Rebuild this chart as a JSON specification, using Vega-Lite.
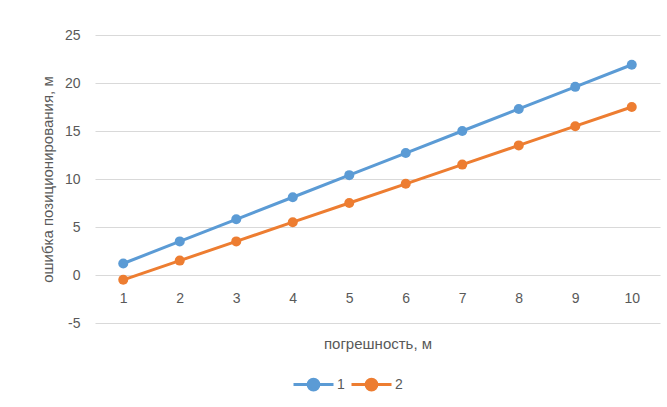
{
  "$schema": "https://vega.github.io/schema/vega-lite/v6.json",
  "width": 565,
  "height": 288,
  "autosize": {"type": "none"},
  "padding": {"left": 95, "top": 35, "right": 7, "bottom": 84},
  "background": "white",
  "data": {
    "values": [
      {"x": 1, "series": "1", "value": 1.2},
      {"x": 2, "series": "1", "value": 3.5},
      {"x": 3, "series": "1", "value": 5.8},
      {"x": 4, "series": "1", "value": 8.1},
      {"x": 5, "series": "1", "value": 10.4},
      {"x": 6, "series": "1", "value": 12.7},
      {"x": 7, "series": "1", "value": 15.0},
      {"x": 8, "series": "1", "value": 17.3},
      {"x": 9, "series": "1", "value": 19.6},
      {"x": 10, "series": "1", "value": 21.9},
      {"x": 1, "series": "2", "value": -0.5},
      {"x": 2, "series": "2", "value": 1.5},
      {"x": 3, "series": "2", "value": 3.5},
      {"x": 4, "series": "2", "value": 5.5},
      {"x": 5, "series": "2", "value": 7.5},
      {"x": 6, "series": "2", "value": 9.5},
      {"x": 7, "series": "2", "value": 11.5},
      {"x": 8, "series": "2", "value": 13.5},
      {"x": 9, "series": "2", "value": 15.5},
      {"x": 10, "series": "2", "value": 17.5}
    ]
  },
  "mark": {
    "type": "line",
    "strokeWidth": 3,
    "point": {"filled": true, "size": 100}
  },
  "encoding": {
    "x": {
      "field": "x",
      "type": "ordinal",
      "scale": {"type": "point", "padding": 0.5},
      "axis": {
        "title": "погрешность, м",
        "labelAngle": 0,
        "offset": -47,
        "domain": false,
        "ticks": false,
        "grid": false,
        "labelPadding": 15,
        "titleBaseline": "middle",
        "titleY": 67
      }
    },
    "y": {
      "field": "value",
      "type": "quantitative",
      "scale": {"domain": [-5, 25], "nice": false, "zero": false},
      "axis": {
        "title": "ошибка позиционирования, м",
        "values": [-5, 0, 5, 10, 15, 20, 25],
        "labelExpr": "replace(datum.label, '−', '-')",
        "domain": false,
        "ticks": false,
        "grid": true,
        "labelPadding": 15,
        "titlePadding": 9
      }
    },
    "color": {
      "field": "series",
      "type": "nominal",
      "scale": {"domain": ["1", "2"], "range": ["#5B9BD5", "#ED7D31"]},
      "legend": {
        "title": null,
        "orient": "none",
        "direction": "horizontal",
        "legendX": 197,
        "legendY": 328,
        "symbolType": "M-1,0H1M0.27,0A0.27,0.27 0 1 1 -0.27,0A0.27,0.27 0 1 1 0.27,0Z",
        "symbolSize": 1600,
        "symbolStrokeWidth": 3,
        "symbolOpacity": 1,
        "labelOffset": 2,
        "columnPadding": 0,
        "encode": {
          "symbols": {"update": {"fill": {"scale": "color", "field": "value"}}}
        }
      }
    }
  },
  "config": {
    "font": "Liberation Sans",
    "view": {"stroke": null},
    "axis": {
      "labelFont": "Liberation Sans",
      "labelFontSize": 14,
      "labelColor": "#595959",
      "titleFont": "Liberation Sans",
      "titleFontSize": 15,
      "titleFontWeight": "normal",
      "titleColor": "#595959",
      "gridColor": "#D9D9D9",
      "gridWidth": 1
    },
    "legend": {
      "labelFont": "Liberation Sans",
      "labelFontSize": 14,
      "labelColor": "#595959"
    }
  }
}
